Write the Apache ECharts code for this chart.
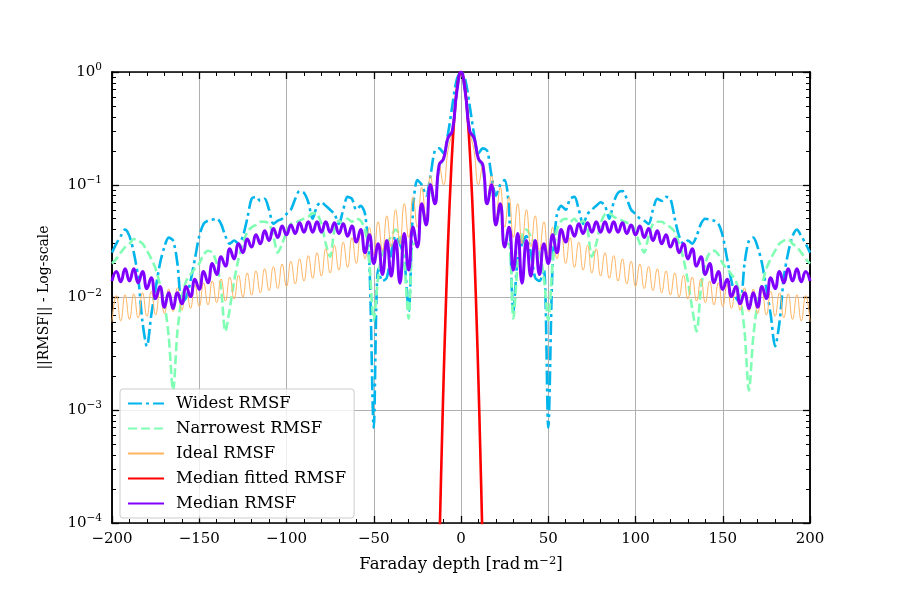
<!DOCTYPE html>
<html lang="en">
<head>
  <meta charset="UTF-8">
  <title>RMSF comparison</title>
  <script src="https://cdn.jsdelivr.net/npm/echarts@6/dist/echarts.min.js"></script>
  <style>
    * { margin: 0; padding: 0; }
    html, body { width: 100%; height: 100%; background: #fff; }
    #chart { width: 900px; height: 600px; }
  </style>
</head>
<body>
<div id="chart"></div>
<script>
  // Faraday depth grid: -200 .. 200, step 2.5 (161 samples)
  const phi = [];
  for (let i = 0; i <= 160; i++) phi.push(-200 + 2.5 * i);

  const seriesNames = ['Widest RMSF', 'Narrowest RMSF', 'Ideal RMSF', 'Median fitted RMSF', 'Median RMSF'];

  // values, one per phi sample
  const widest = [
    0.025, 0.03, 0.035, 0.04, 0.035, 0.025, 0.015, 0.006, 0.0037, 0.007,
    0.012, 0.02, 0.028, 0.034, 0.032, 0.02, 0.009, 0.01, 0.014, 0.022,
    0.035, 0.045, 0.048, 0.049, 0.05, 0.045, 0.035, 0.03, 0.032, 0.03,
    0.035, 0.05, 0.075, 0.078, 0.072, 0.075, 0.06, 0.045, 0.048, 0.05,
    0.055, 0.06, 0.075, 0.088, 0.085, 0.07, 0.05, 0.065, 0.07, 0.065,
    0.06, 0.055, 0.045, 0.06, 0.078, 0.075, 0.06, 0.065, 0.055, 0.02,
    0.0007, 0.018, 0.014, 0.015, 0.025, 0.035, 0.03, 0.022, 0.0075, 0.06,
    0.11, 0.1, 0.08, 0.12, 0.2, 0.21, 0.19, 0.28, 0.5, 0.85,
    1.0,
    0.85, 0.5, 0.28, 0.19, 0.21, 0.2, 0.12, 0.08, 0.1, 0.11,
    0.06, 0.0075, 0.022, 0.03, 0.035, 0.025, 0.015, 0.014, 0.018, 0.0007,
    0.02, 0.055, 0.065, 0.06, 0.075, 0.078, 0.06, 0.045, 0.055, 0.06,
    0.065, 0.07, 0.065, 0.05, 0.07, 0.085, 0.088, 0.075, 0.06, 0.055,
    0.05, 0.048, 0.045, 0.06, 0.075, 0.072, 0.078, 0.075, 0.05, 0.035,
    0.03, 0.032, 0.03, 0.035, 0.045, 0.05, 0.049, 0.048, 0.045, 0.035,
    0.022, 0.014, 0.01, 0.009, 0.02, 0.032, 0.034, 0.028, 0.02, 0.012,
    0.007, 0.0037, 0.006, 0.015, 0.025, 0.035, 0.04, 0.035, 0.03, 0.025
  ];

  const narrowest = [
    0.02, 0.022, 0.025, 0.028, 0.03, 0.033, 0.032, 0.03, 0.026, 0.022,
    0.018, 0.013, 0.009, 0.0045, 0.0015, 0.005, 0.01, 0.014, 0.016, 0.018,
    0.02, 0.024, 0.026, 0.025, 0.02, 0.012, 0.005, 0.008, 0.014, 0.022,
    0.03, 0.038, 0.042, 0.044, 0.047, 0.047, 0.045, 0.035, 0.025, 0.03,
    0.038, 0.045, 0.046, 0.048, 0.05, 0.052, 0.056, 0.055, 0.045, 0.03,
    0.023, 0.04, 0.048, 0.045, 0.05, 0.047, 0.05, 0.048, 0.04, 0.02,
    0.0063, 0.015, 0.025, 0.03, 0.035, 0.04, 0.035, 0.02, 0.0065, 0.03,
    0.03, 0.065, 0.045, 0.095, 0.07, 0.14, 0.17, 0.25, 0.3, 0.65,
    1.0,
    0.65, 0.3, 0.25, 0.17, 0.14, 0.07, 0.095, 0.045, 0.065, 0.03,
    0.03, 0.0065, 0.02, 0.035, 0.04, 0.035, 0.03, 0.025, 0.015, 0.0063,
    0.02, 0.04, 0.048, 0.05, 0.047, 0.05, 0.045, 0.048, 0.04, 0.023,
    0.03, 0.045, 0.055, 0.056, 0.052, 0.05, 0.048, 0.046, 0.045, 0.038,
    0.03, 0.025, 0.035, 0.045, 0.047, 0.047, 0.044, 0.042, 0.038, 0.03,
    0.022, 0.014, 0.008, 0.005, 0.012, 0.02, 0.025, 0.026, 0.024, 0.02,
    0.018, 0.016, 0.014, 0.01, 0.005, 0.0015, 0.0045, 0.009, 0.013, 0.018,
    0.022, 0.026, 0.03, 0.032, 0.033, 0.03, 0.028, 0.025, 0.022, 0.02
  ];

  const ideal = [
    0.0061, 0.0104, 0.0062, 0.0106, 0.0064, 0.0108, 0.0066, 0.011, 0.0068, 0.0113,
    0.007, 0.0116, 0.0072, 0.0119, 0.0075, 0.0122, 0.0077, 0.0126, 0.008, 0.013,
    0.0083, 0.0135, 0.0086, 0.014, 0.009, 0.0146, 0.0093, 0.0152, 0.0097, 0.0158,
    0.0101, 0.0165, 0.0105, 0.0172, 0.011, 0.018, 0.0115, 0.0188, 0.012, 0.0198,
    0.0125, 0.021, 0.0132, 0.022, 0.014, 0.0235, 0.0148, 0.025, 0.0155, 0.027,
    0.0165, 0.029, 0.0175, 0.031, 0.0185, 0.034, 0.02, 0.037, 0.022, 0.042,
    0.024, 0.047, 0.026, 0.053, 0.028, 0.06, 0.03, 0.068, 0.034, 0.078,
    0.042, 0.095, 0.05, 0.12, 0.07, 0.15, 0.1, 0.2, 0.3, 0.72,
    1.0,
    0.72, 0.3, 0.2, 0.1, 0.15, 0.07, 0.12, 0.05, 0.095, 0.042,
    0.078, 0.034, 0.068, 0.03, 0.06, 0.028, 0.053, 0.026, 0.047, 0.024,
    0.042, 0.022, 0.037, 0.02, 0.034, 0.0185, 0.031, 0.0175, 0.029, 0.0165,
    0.027, 0.0155, 0.025, 0.0148, 0.0235, 0.014, 0.022, 0.0132, 0.021, 0.0125,
    0.0198, 0.012, 0.0188, 0.0115, 0.018, 0.011, 0.0172, 0.0105, 0.0165, 0.0101,
    0.0158, 0.0097, 0.0152, 0.0093, 0.0146, 0.009, 0.014, 0.0086, 0.0135, 0.0083,
    0.013, 0.008, 0.0126, 0.0077, 0.0122, 0.0075, 0.0119, 0.0072, 0.0116, 0.007,
    0.0113, 0.0068, 0.011, 0.0066, 0.0108, 0.0064, 0.0106, 0.0062, 0.0104, 0.0061
  ];

  const median = [
    0.014, 0.017, 0.0138, 0.018, 0.014, 0.018, 0.0135, 0.017, 0.012, 0.015,
    0.0098, 0.0125, 0.0082, 0.011, 0.008, 0.011, 0.0088, 0.0125, 0.0102, 0.0145,
    0.0118, 0.017, 0.0135, 0.020, 0.016, 0.023, 0.019, 0.027, 0.022, 0.030,
    0.025, 0.033, 0.028, 0.036, 0.030, 0.039, 0.032, 0.041, 0.034, 0.043,
    0.036, 0.044, 0.037, 0.046, 0.038, 0.047, 0.038, 0.047, 0.038, 0.047,
    0.038, 0.046, 0.037, 0.045, 0.035, 0.043, 0.031, 0.04, 0.025, 0.036,
    0.02, 0.03, 0.016, 0.032, 0.0155, 0.032, 0.0134, 0.037, 0.0175, 0.042,
    0.028, 0.068, 0.044, 0.1, 0.068, 0.15, 0.17, 0.26, 0.3, 0.65,
    1.0,
    0.65, 0.3, 0.26, 0.17, 0.15, 0.068, 0.1, 0.044, 0.068, 0.028,
    0.042, 0.0175, 0.037, 0.0134, 0.032, 0.0155, 0.032, 0.016, 0.03, 0.02,
    0.036, 0.025, 0.04, 0.031, 0.043, 0.035, 0.045, 0.037, 0.046, 0.038,
    0.047, 0.038, 0.047, 0.038, 0.047, 0.038, 0.046, 0.037, 0.044, 0.036,
    0.043, 0.034, 0.041, 0.032, 0.039, 0.030, 0.036, 0.028, 0.033, 0.025,
    0.030, 0.022, 0.027, 0.019, 0.023, 0.016, 0.020, 0.0135, 0.017, 0.0118,
    0.0145, 0.0102, 0.0125, 0.0088, 0.011, 0.008, 0.011, 0.0082, 0.0125, 0.0098,
    0.015, 0.012, 0.017, 0.0135, 0.018, 0.014, 0.018, 0.0138, 0.017, 0.014
  ];

  // fitted main lobe, sampled every 1 rad/m^2
  const fitPhi = [-13, -12, -11, -10, -9, -8, -7, -6, -5, -4, -3, -2, -1, 0,
    1, 2, 3, 4, 5, 6, 7, 8, 9, 10, 11, 12, 13];
  const fitted = [2.2e-5, 1.1e-4, 4.7e-4, 1.8e-3, 5.9e-3, 0.0174, 0.045, 0.102, 0.205, 0.363, 0.566, 0.776, 0.939, 1.0,
    0.939, 0.776, 0.566, 0.363, 0.205, 0.102, 0.045, 0.0174, 5.9e-3, 1.8e-3, 4.7e-4, 1.1e-4, 2.2e-5];

  const xTicks = { min: -200, max: 200, interval: 50 };
  const yRange = { min: 1e-4, max: 1 };

  // matplotlib-like minor ticks at 2..9 x 10^n
  const minorVals = [];
  for (let e = -4; e < 0; e++) {
    for (let k = 2; k <= 9; k++) minorVals.push(k * Math.pow(10, e));
  }

  const font = 'DejaVu Serif';
  const pairs = (xs, ys) => ys.map((y, i) => [xs[i], y]);
  const minus = s => String(s).replace('-', '\u2212');

  const chart = echarts.init(document.getElementById('chart'), null, { renderer: 'canvas' });

  const plotBox = { left: 112, right: 90, top: 72, bottom: 77, containLabel: false, outerBoundsMode: 'none' };
  const frameTick = { show: true, inside: true, length: 7, lineStyle: { color: '#000', width: 1.3 } };
  const frameMinor = { show: true, splitNumber: 5, length: 4, lineStyle: { color: '#000', width: 1 } };
  const frameLine = { show: true, onZero: false, lineStyle: { color: '#000', width: 1.5 } };
  const gridLine = { show: true, lineStyle: { color: '#b0b0b0', width: 1 } };
  // second, overlapping grid whose y axes only carry the log minor ticks
  const minorAxis = side => ({
    type: 'log', logBase: 10, gridIndex: 1, position: side, ...yRange,
    axisLine: frameLine,
    axisTick: { show: true, inside: true, length: 4, customValues: minorVals, lineStyle: { color: '#000', width: 1 } },
    splitLine: { show: false }, axisLabel: { show: false }
  });

  const option = {
    animation: false,
    backgroundColor: '#fff',
    textStyle: { fontFamily: font },
    grid: [plotBox, { ...plotBox }],
    legend: {
      orient: 'vertical',
      left: 120,
      top: 389,
      data: seriesNames,
      itemWidth: 36,
      itemHeight: 12,
      itemGap: 8,
      padding: [6, 8, 6, 7],
      borderColor: '#cccccc',
      borderWidth: 1,
      borderRadius: 3,
      backgroundColor: 'rgba(255,255,255,0.8)',
      itemStyle: { opacity: 0 },
      textStyle: { fontFamily: font, fontSize: 16.5, color: '#000', padding: [0, 0, 0, 7] }
    },
    xAxis: [
      {
        type: 'value', position: 'bottom', ...xTicks,
        name: '{a|Faraday depth [rad\u2009m}{s|\u22122}{a|]}',
        nameLocation: 'middle', nameGap: 32,
        nameTextStyle: {
          rich: {
            a: { fontFamily: font, fontSize: 16.5, color: '#000' },
            s: { fontFamily: font, fontSize: 11.5, color: '#000', padding: [0, 0, 8, 0] }
          }
        },
        axisLine: frameLine, axisTick: frameTick, minorTick: frameMinor,
        splitLine: gridLine,
        axisLabel: { margin: 9, fontFamily: font, fontSize: 15, color: '#000', formatter: v => minus(v) }
      },
      {
        type: 'value', position: 'top', ...xTicks,
        axisLine: frameLine, axisTick: frameTick, minorTick: frameMinor,
        splitLine: { show: false }, axisLabel: { show: false }
      },
      {
        type: 'value', gridIndex: 1, ...xTicks, show: false
      }
    ],
    yAxis: [
      {
        type: 'log', logBase: 10, position: 'left', ...yRange, splitNumber: 4,
        name: '||RMSF|| - Log-scale',
        nameLocation: 'middle', nameGap: 61,
        nameTextStyle: { fontFamily: font, fontSize: 14, color: '#000' },
        axisLine: frameLine, axisTick: frameTick,
        splitLine: gridLine,
        axisLabel: {
          margin: 10,
          formatter: v => {
            const e = Math.round(Math.log10(v));
            return '{b|10}{s|' + minus(e) + '}';
          },
          rich: {
            b: { fontFamily: font, fontSize: 15, color: '#000' },
            s: { fontFamily: font, fontSize: 10.5, color: '#000', padding: [0, 0, 9, 0] }
          }
        }
      },
      {
        type: 'log', logBase: 10, position: 'right', ...yRange, splitNumber: 4,
        axisLine: frameLine, axisTick: frameTick,
        splitLine: { show: false }, axisLabel: { show: false }
      },
      minorAxis('left'),
      minorAxis('right')
    ],
    series: [
      {
        name: seriesNames[0], type: 'line', symbol: 'none', smooth: 0.3,
        data: pairs(phi, widest),
        lineStyle: { color: '#00b4ec', width: 2.6, type: [14, 4, 3, 4] },
        itemStyle: { color: '#00b4ec' }
      },
      {
        name: seriesNames[1], type: 'line', symbol: 'none', smooth: 0.3,
        data: pairs(phi, narrowest),
        lineStyle: { color: '#80ffb4', width: 2.6, type: [9, 4] },
        itemStyle: { color: '#80ffb4' }
      },
      {
        name: seriesNames[2], type: 'line', symbol: 'none', smooth: 0.5,
        data: pairs(phi, ideal),
        lineStyle: { color: '#ffb462', width: 1 },
        itemStyle: { color: '#ffb462' }
      },
      {
        name: seriesNames[3], type: 'line', symbol: 'none', smooth: true,
        data: pairs(fitPhi, fitted),
        lineStyle: { color: '#ff0000', width: 2.6 },
        itemStyle: { color: '#ff0000' }
      },
      {
        name: seriesNames[4], type: 'line', symbol: 'none', smooth: 0.5,
        data: pairs(phi, median),
        lineStyle: { color: '#8000ff', width: 3 },
        itemStyle: { color: '#8000ff' }
      }
    ]
  };

  chart.setOption(option);
</script>
</body>
</html>
